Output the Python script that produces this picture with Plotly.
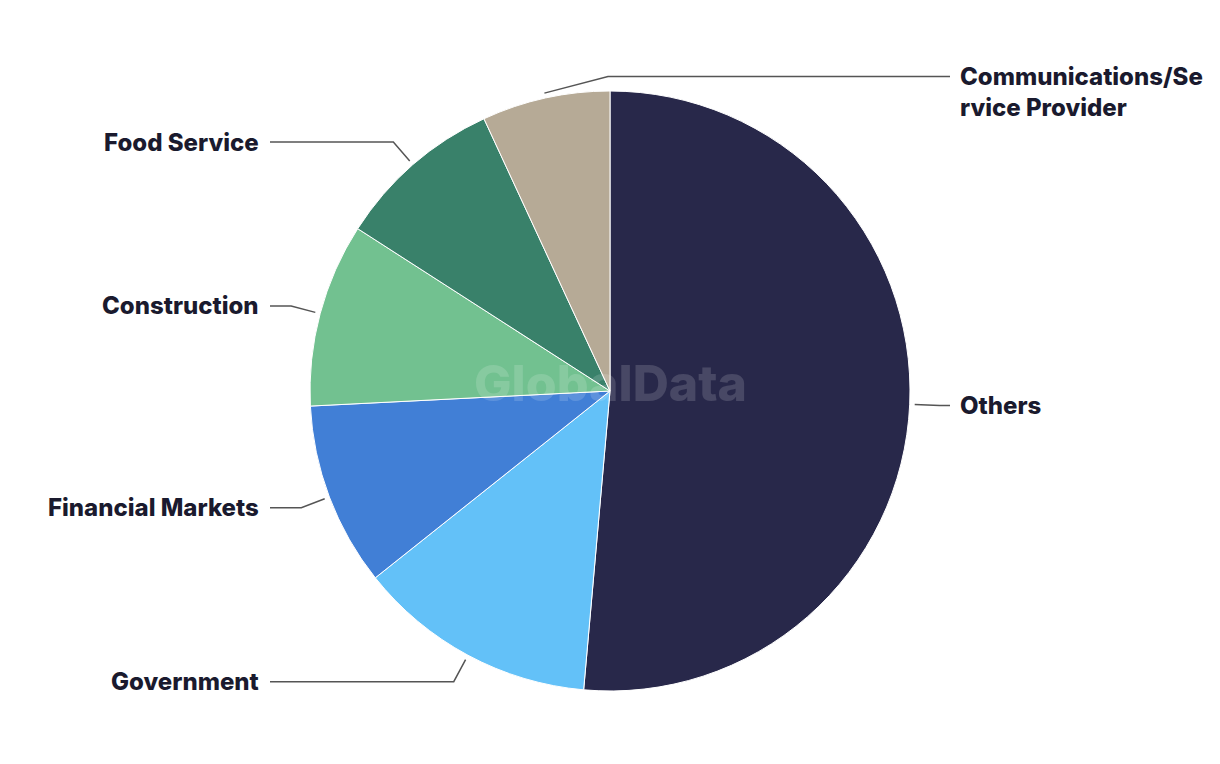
import math
import plotly.graph_objects as go

# ---- data ----
categories = ["Others", "Government", "Financial Markets", "Construction",
              "Food Service", "Communications/Service Provider"]
label_text = ["Others", "Government", "Financial Markets", "Construction",
              "Food Service", "Communications/Se<br>rvice Provider"]
shares = [51.4, 12.9, 9.9, 9.9, 9.0, 6.9]
colors = ["#28284a", "#63c1f8", "#417fd6", "#72c190", "#39816a", "#b6aa96"]

W, H = 1220, 764
CX, CY, R = 610, 391, 300  # pixel geometry of the pie

fig = go.Figure(go.Pie(
    labels=categories, values=shares, sort=False, direction="clockwise",
    rotation=0, textinfo="none", hoverinfo="label+percent",
    marker=dict(colors=colors, line=dict(color="white", width=1)),
    domain=dict(x=[(CX - R) / W, (CX + R) / W],
                y=[(H - CY - R) / H, (H - CY + R) / H]),
    showlegend=False,
))

def px(x):
    return x / W

def py(y):
    return 1 - y / H

total = sum(shares)
cum = 0.0
shapes, annotations = [], []
for name, txt, v in zip(categories, label_text, shares):
    mid = (cum + v / 2) / total * 2 * math.pi
    cum += v
    s, c = math.sin(mid), math.cos(mid)
    x0, y0 = CX + (R + 5) * s, CY - (R + 5) * c
    flipped = s < 0 and c > 0.95  # near the top: send label to the right
    if flipped:
        ex, ey = CX - 2, CY - (R + 22) * c
        right = True
    else:
        ex, ey = CX + (R + 30) * s, CY - (R + 30) * c
        right = s >= 0
    hx = 950 if right else 270
    shapes.append(dict(type="path", xref="paper", yref="paper",
                       path=f"M {px(x0)},{py(y0)} L {px(ex)},{py(ey)} L {px(hx)},{py(ey)}",
                       line=dict(color="#555555", width=1.5)))
    annotations.append(dict(
        x=px(hx + (8 if right else -9)), y=py(ey + (15 if "<br>" in txt else 0)),
        xref="paper", yref="paper", text=txt, showarrow=False,
        xanchor="left" if right else "right", yanchor="middle", align="left",
        font=dict(family="Inter", size=24, color="#1a1a2e", weight=800)))

annotations.append(dict(x=px(CX), y=py(383), xref="paper", yref="paper",
                        text="GlobalData", showarrow=False,
                        font=dict(family="Inter", size=50, weight=800,
                                  color="rgba(255,255,255,0.15)")))

fig.update_layout(width=W, height=H, margin=dict(l=0, r=0, t=0, b=0),
                  paper_bgcolor="white", plot_bgcolor="white",
                  shapes=shapes, annotations=annotations)
fig.write_html("out.html", config={"displayModeBar": False})

with open("out.html", encoding="utf-8") as f:
    html = f.read()
html = html.replace("<head>", "<head><style>html,body{margin:0;padding:0;}</style>", 1)
with open("out.html", "w", encoding="utf-8") as f:
    f.write(html)
